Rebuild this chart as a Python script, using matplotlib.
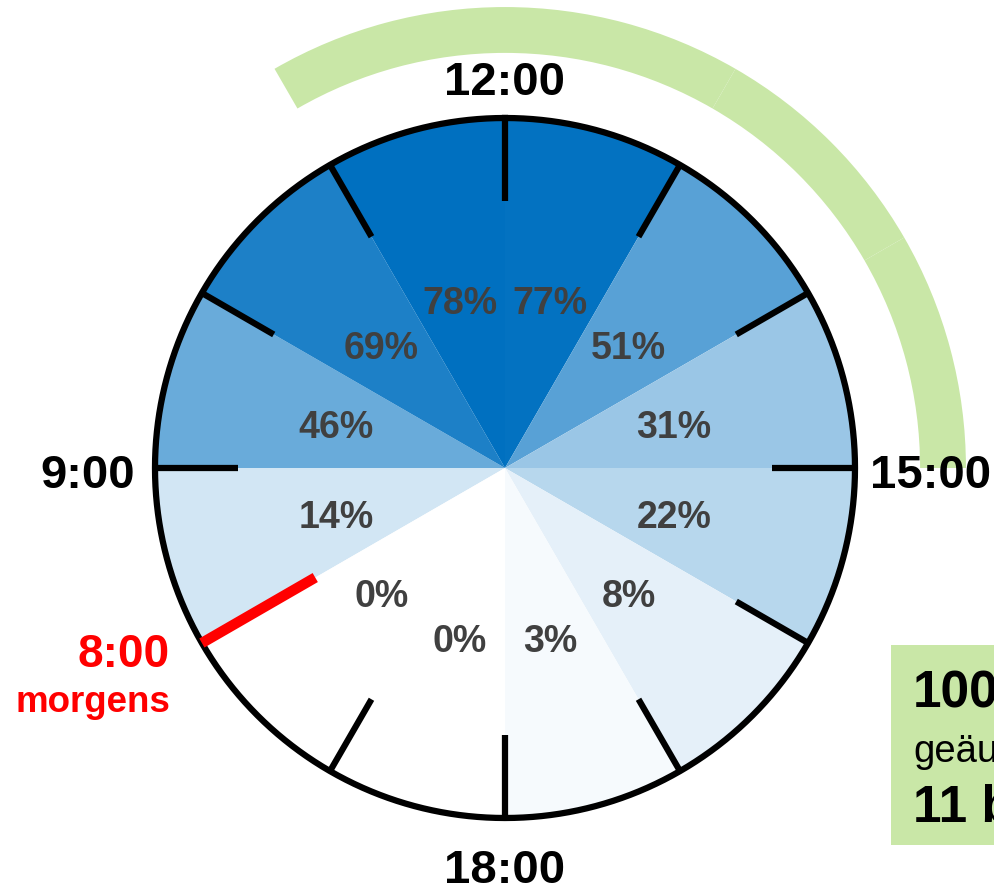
import matplotlib.pyplot as plt
import numpy as np
from matplotlib.colors import LinearSegmentedColormap, Normalize
from matplotlib.patches import Rectangle
from matplotlib.transforms import ScaledTranslation

plt.rcParams["font.family"] = ["Liberation Sans", "DejaVu Sans"]

# Anteil je Stunde: Beginn der Stunde und Wert in %
stunden = [8, 9, 10, 11, 12, 13, 14, 15, 16, 17, 18, 19]
anteile = [14, 46, 69, 78, 77, 51, 31, 22, 8, 3, 0, 0]

# Hauptzeitfenster 11-15 Uhr (je eine Stunde)
fenster = [11, 12, 13, 14]

# Beschriftung der Uhr
uhr_labels = ["12:00", "15:00", "18:00", "9:00"]
start_label = "8:00"
start_sub = "morgens"
box_lines = ["100%", "geäußert", "11 bis 15 Uhr"]

BLAU = "#0070C0"
GRUEN = "#C9E7A7"
TEXT_GRAU = "#404040"
ROT = "#FF0000"

stunde_rad = 2 * np.pi / 12


def winkel(h):
    """Position einer Uhrzeit auf dem Zifferblatt (12 Uhr oben)."""
    return np.deg2rad((np.asarray(h) % 12) * 30.0)


fig = plt.figure(figsize=(9.95, 8.89), dpi=100)
ax = fig.add_axes([0.03266, -0.05793, 0.94975, 1.06299], projection="polar")
ax.set_theta_zero_location("N")
ax.set_theta_direction(-1)
ax.set_ylim(0, 1.35)
ax.axis("off")

cmap = LinearSegmentedColormap.from_list("weiss_blau", ["white", BLAU])
norm = Normalize(0, max(anteile))
farben = cmap(norm(anteile))

mitten = winkel(stunden) + stunde_rad / 2
ax.bar(mitten, np.ones(len(anteile)), width=stunde_rad, bottom=0,
       color=farben, linewidth=0)

# Prozentwerte leicht nach unten versetzt, damit die Ziffern mittig sitzen
tief = ax.transData + ScaledTranslation(0, -5 / 100, fig.dpi_scale_trans)
for th, v in zip(mitten, anteile):
    ax.text(th, 0.5, f"{v}%", ha="center", va="center", fontsize=27,
            fontweight="bold", color=TEXT_GRAU, transform=tief)

# Zeitfenster als Bogen außerhalb des Kreises
ax.bar(winkel(fenster) + stunde_rad / 2, np.full(len(fenster), 0.131),
       width=stunde_rad, bottom=1.186, color=GRUEN, linewidth=0)

# Stundenstriche und Kreis
for h in range(12):
    if h == 8:
        continue
    ax.plot([winkel(h)] * 2, [0.763, 1.0], color="black", lw=4.5,
            solid_capstyle="butt")
theta = np.linspace(0, 2 * np.pi, 721)
ax.plot(theta, np.ones_like(theta), color="black", lw=4.5)

# Startzeit rot markiert
ax.plot([winkel(stunden[0])] * 2, [0.626, 1.0], color=ROT, lw=7.5,
        solid_capstyle="butt")

# Uhrzeiten
kw = dict(fontsize=34, fontweight="bold", color="black", va="baseline")
ax.text(0, 1.066, uhr_labels[0], ha="center", **kw)
ax.text(np.deg2rad(93.1), 1.044, uhr_labels[1], ha="left", **kw)
ax.text(np.pi, 1.186, uhr_labels[2], ha="center", **kw)
ax.text(np.deg2rad(266.9), 1.059, uhr_labels[3], ha="right", **kw)

ax.text(np.deg2rad(239.3), 1.113, start_label, ha="right", va="baseline",
        fontsize=33, fontweight="bold", color=ROT)
ax.text(np.deg2rad(233.9), 1.184, start_sub, ha="right", va="baseline",
        fontsize=26.5, fontweight="bold", color=ROT)

# Infokasten unten rechts
fig.add_artist(Rectangle((891 / 995, 44 / 889), 0.2, 200 / 889,
                         transform=fig.transFigure, facecolor=GRUEN,
                         edgecolor="none"))
fig.text(913 / 995, 182 / 889, box_lines[0], fontsize=37, fontweight="bold",
         va="baseline", ha="left")
fig.text(913 / 995, 127 / 889, box_lines[1], fontsize=27.5, va="baseline",
         ha="left")
fig.text(913 / 995, 67 / 889, box_lines[2], fontsize=37, fontweight="bold",
         va="baseline", ha="left")

fig.savefig("out.png", dpi=100)
